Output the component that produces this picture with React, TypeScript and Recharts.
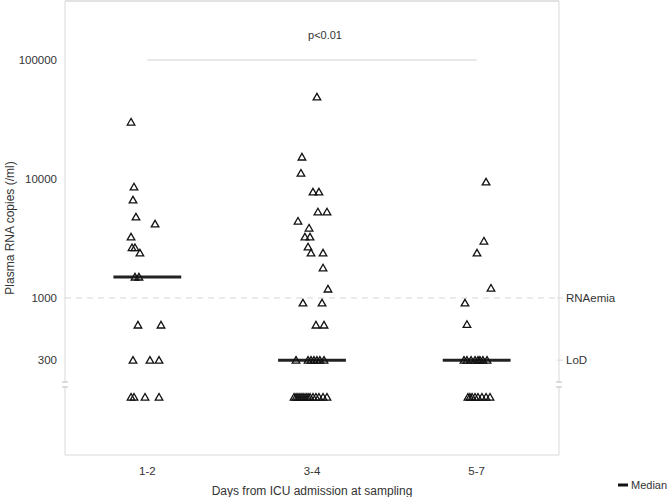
import React from "react";
import { ScatterChart, Scatter, XAxis, YAxis, ReferenceLine } from "recharts";

// days groups on the x axis
const groups = ["1-2", "3-4", "5-7"];
// undetectable samples are drawn below the axis break at this pseudo value
const BELOW_LOD = 147;
const LOD = 300;
const RNAEMIA = 1000;

// copies/ml and horizontal jitter (in category units)
const day12Values = [30100, 8580, 6670, 4800, 4190, 3260, 2650, 2650, 2390, 1500, 1500, 593, 593, 300, 300, 300, BELOW_LOD, BELOW_LOD, BELOW_LOD, BELOW_LOD];
const day12Jitter = [0.901, 0.919, 0.913, 0.931, 1.047, 0.901, 0.907, 0.925, 0.955, 0.925, 0.949, 0.943, 1.083, 0.913, 1.016, 1.071, 0.901, 0.919, 0.986, 1.071];

const day34Values = [48900, 15300, 11200, 7780, 7780, 5290, 5290, 4430, 3870, 3260, 3260, 2690, 2390, 2390, 1790, 1190, 908, 908, 593, 593,
  300, 300, 300, 300, 300, 300, 300,
  BELOW_LOD, BELOW_LOD, BELOW_LOD, BELOW_LOD, BELOW_LOD, BELOW_LOD, BELOW_LOD, BELOW_LOD, BELOW_LOD, BELOW_LOD, BELOW_LOD, BELOW_LOD, BELOW_LOD, BELOW_LOD];
const day34Jitter = [2.030, 1.939, 1.933, 2.006, 2.042, 2.036, 2.091, 1.915, 1.982, 1.957, 1.988, 1.976, 1.994, 2.067, 2.067, 2.097, 1.945, 2.061, 2.024, 2.073,
  1.903, 1.976, 1.994, 2.012, 2.030, 2.048, 2.073,
  1.891, 1.903, 1.915, 1.927, 1.939, 1.951, 1.964, 1.976, 1.988, 2.006, 2.024, 2.042, 2.067, 2.091];

const day57Values = [9440, 3010, 2390, 1210, 908, 600, 300, 300, 300, 300, 300, 300, 300, 300,
  BELOW_LOD, BELOW_LOD, BELOW_LOD, BELOW_LOD, BELOW_LOD, BELOW_LOD, BELOW_LOD, BELOW_LOD];
const day57Jitter = [3.057, 3.044, 3.002, 3.087, 2.929, 2.941, 2.923, 2.941, 2.966, 2.990, 3.008, 3.020, 3.038, 3.063,
  2.947, 2.959, 2.972, 2.990, 3.008, 3.032, 3.057, 3.081];

const medians = [1500, 300, 300];
const yTicks = [300, 1000, 10000, 100000];

const toPoints = (xs: number[], ys: number[]) => ys.map((v, i) => ({ x: xs[i], y: v }));
const series = [
  toPoints(day12Jitter, day12Values),
  toPoints(day34Jitter, day34Values),
  toPoints(day57Jitter, day57Values),
];

const FONT = "'Liberation Sans', Arial, sans-serif";
const INK = "#333333";
const FRAME = "#d9d9d9";
const Y_DOMAIN: [number, number] = [47.9, 313200];

function Triangle(props: any) {
  const { cx, cy } = props;
  if (cx == null || cy == null) return null;
  return (
    <path
      d={`M${cx},${cy - 3.6} L${cx + 3.8},${cy + 3} L${cx - 3.8},${cy + 3} Z`}
      fill="none"
      stroke="#111"
      strokeWidth={1.3}
    />
  );
}

function LeftTick({ x, y, payload }: any) {
  return (
    <text x={x} y={y + 4} textAnchor="end" fontSize={11.5} fill={INK} fontFamily={FONT}>
      {payload.value}
    </text>
  );
}

function RightTick({ x, y, payload }: any) {
  return (
    <g>
      <line x1={x - 10} y1={y} x2={x - 4} y2={y} stroke={FRAME} />
      <text x={x - 1} y={y + 4} textAnchor="start" fontSize={11.5} fill={INK} fontFamily={FONT}>
        {payload.value === LOD ? "LoD" : "RNAemia"}
      </text>
    </g>
  );
}

function BottomTick({ x, y, payload }: any) {
  return (
    <text x={x} y={y + 12} textAnchor="middle" fontSize={11.5} fill={INK} fontFamily={FONT}>
      {groups[payload.value - 1]}
    </text>
  );
}

export default function App() {
  // plot box: x 65..559, y 1..455, axis break at ~382..387
  const L = 65, R = 559, T = 1, B = 455, b1 = 382, b2 = 387;
  return (
    <div style={{ position: "absolute", left: 0, top: 0, width: 669, height: 497, background: "#fff", fontFamily: FONT }}>
      <ScatterChart width={669} height={497} margin={{ top: 1, right: 0, bottom: 0, left: 0 }}>
        <XAxis
          type="number"
          dataKey="x"
          domain={[0.5, 3.5]}
          ticks={[1, 2, 3]}
          height={42}
          axisLine={false}
          tickLine={false}
          tick={<BottomTick />}
          label={{ value: "Days from ICU admission at sampling", position: "insideBottom", offset: 2, fontSize: 12, fill: INK, fontFamily: FONT }}
        />
        <YAxis
          type="number"
          dataKey="y"
          scale="log"
          domain={Y_DOMAIN}
          allowDataOverflow
          ticks={yTicks}
          width={65}
          axisLine={false}
          tickLine={false}
          tick={<LeftTick />}
          label={{ value: "Plasma RNA copies (/ml)", angle: -90, position: "insideLeft", offset: 10, fontSize: 12, fill: INK, fontFamily: FONT, style: { textAnchor: "middle" } }}
        />
        <YAxis
          yAxisId="right"
          orientation="right"
          type="number"
          scale="log"
          domain={Y_DOMAIN}
          allowDataOverflow
          ticks={[LOD, RNAEMIA]}
          width={110}
          axisLine={false}
          tickLine={false}
          tick={<RightTick />}
        />

        {/* frame with axis break */}
        <line x1={L} y1={T} x2={R} y2={T} stroke={FRAME} strokeWidth={1.5} />
        <line x1={L} y1={B} x2={R} y2={B} stroke={FRAME} />
        <line x1={L} y1={T} x2={L} y2={b1} stroke={FRAME} />
        <line x1={L} y1={b2} x2={L} y2={B} stroke={FRAME} />
        <line x1={R} y1={T} x2={R} y2={b1} stroke={FRAME} />
        <line x1={R} y1={b2} x2={R} y2={B} stroke={FRAME} />
        <line x1={L - 3} y1={b1} x2={L + 3} y2={b1} stroke="#bbb" />
        <line x1={L - 3} y1={b2} x2={L + 3} y2={b2} stroke="#bbb" />
        <line x1={R - 3} y1={b1} x2={R + 3} y2={b1} stroke="#bbb" />
        <line x1={R - 3} y1={b2} x2={R + 3} y2={b2} stroke="#bbb" />

        <ReferenceLine y={RNAEMIA} stroke="#d6d6d6" strokeDasharray="6 5" />
        <ReferenceLine segment={[{ x: 1, y: 100000 }, { x: 3, y: 100000 }]} stroke="#d3d3d3" />
        <text x={325} y={38.5} textAnchor="middle" fontSize={11} fill={INK} fontFamily={FONT}>p&lt;0.01</text>

        {medians.map((m, i) => (
          <ReferenceLine
            key={`med-${i}`}
            segment={[{ x: i + 1 - 0.206, y: m }, { x: i + 1 + 0.206, y: m }]}
            stroke="#222"
            strokeWidth={3}
          />
        ))}

        {series.map((pts, i) => (
          <Scatter key={groups[i]} data={pts} shape={<Triangle />} isAnimationActive={false} />
        ))}

        {/* legend */}
        <line x1={618} y1={485} x2={628} y2={485} stroke="#111" strokeWidth={3} />
        <text x={631} y={489} fontSize={11} fill={INK} fontFamily={FONT}>Median</text>
      </ScatterChart>
    </div>
  );
}
